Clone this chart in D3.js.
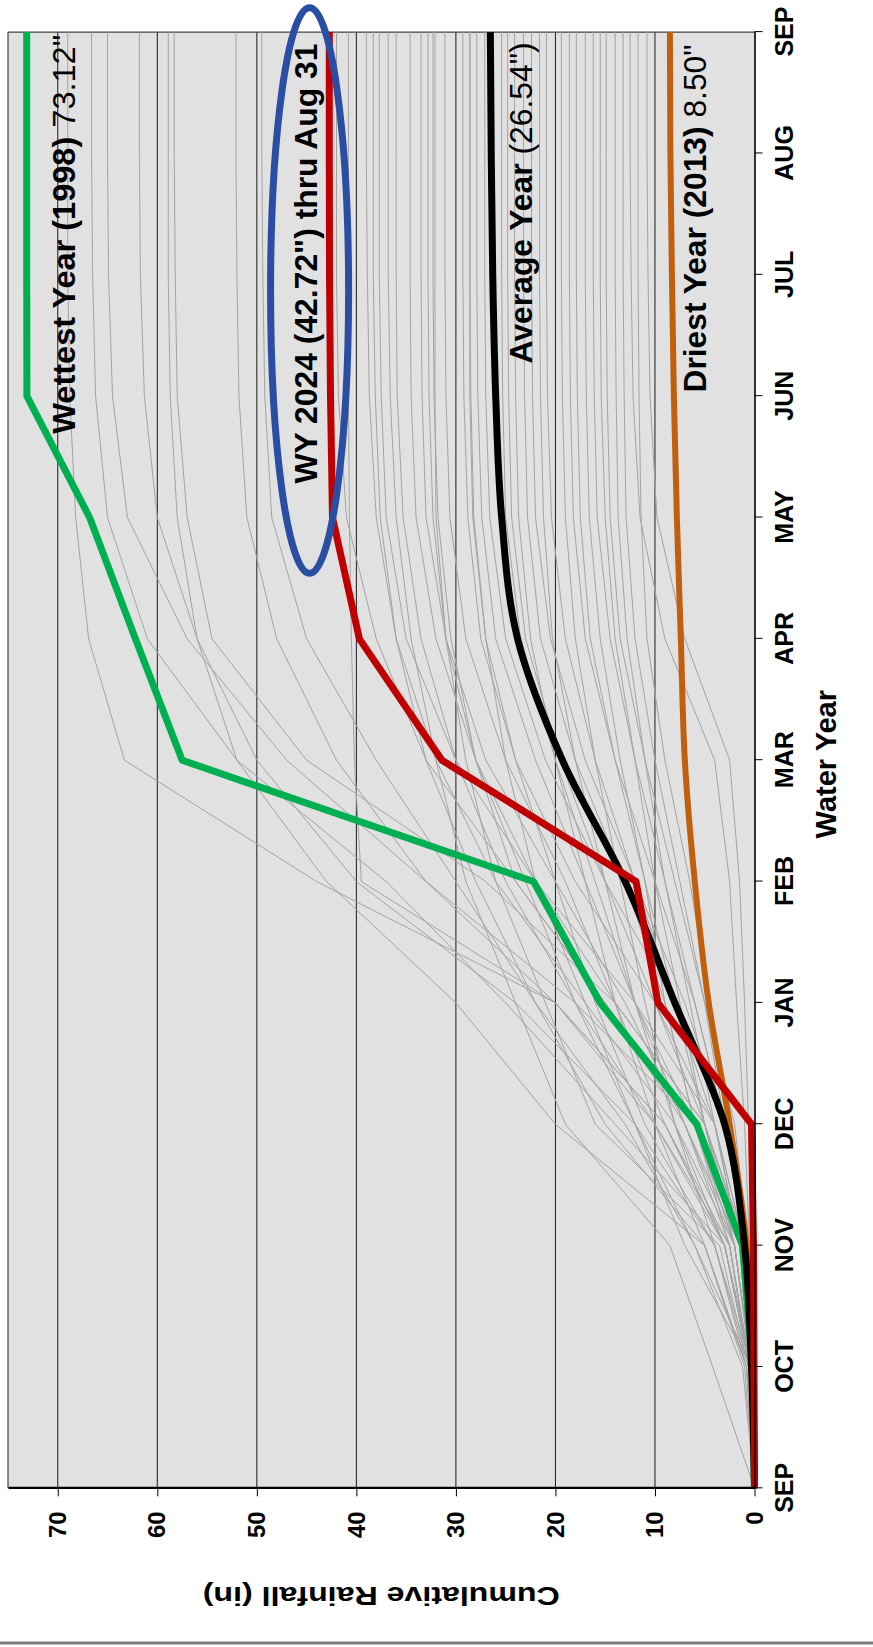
<!DOCTYPE html>
<html>
<head>
<meta charset="utf-8">
<script src="https://cdn.jsdelivr.net/npm/d3@7"></script>
<style>
  body { margin: 0; background: #fff; }
  svg { display: block; font-family: "Liberation Sans", Arial, sans-serif; }
</style>
</head>
<body>
<svg id="chart"></svg>
<script>
// month ticks of the water year, Sep 1 through Sep 1
const months = ["SEP", "OCT", "NOV", "DEC", "JAN", "FEB", "MAR", "APR", "MAY", "JUN", "JUL", "AUG", "SEP"]
const rainTicks = [0, 10, 20, 30, 40, 50, 60, 70]

// cumulative rainfall (in), one value per month tick
const wettest1998 = [0, 0.2, 1.2, 5.8, 15.5, 22.2, 57.5, 62.2, 66.8, 73.1, 73.12, 73.12, 73.12]
const wy2024      = [0, 0.05, 0.1, 0.3, 9.7, 11.9, 31.4, 39.7, 42.4, 42.6, 42.7, 42.72, 42.72]
const average     = [0, 0.3, 1.0, 3.0, 8.0, 13.0, 19.3, 23.8, 25.4, 26.0, 26.3, 26.45, 26.54]
const driest2013  = [0, 0.3, 0.8, 2.5, 4.6, 6.0, 7.0, 7.4, 7.8, 8.1, 8.3, 8.45, 8.50]

// every other year of record
const grayYears = [
    [0, 0.4, 2.5, 9, 20, 44, 63.3, 66.9, 68.2, 68.8, 69.0, 69.0, 69.0],
    [0, 0.2, 3, 14, 25, 37, 52, 61, 65, 66.2, 66.5, 66.6, 66.6],
    [0, 0.5, 1.5, 6, 18, 33, 47, 57, 63, 64.5, 64.9, 65.0, 65.0],
    [0, 0.3, 4, 12, 24, 40, 50, 56, 60, 61.3, 61.7, 61.8, 61.8],
    [0, 0.8, 5, 20, 30, 43, 52, 56, 58, 58.7, 58.9, 58.9, 58.9],
    [0, 0.1, 1, 5, 14, 27, 45, 54.5, 57, 58, 58.2, 58.3, 58.3],
    [0, 0.5, 2.5, 10, 20, 33, 42, 48, 51, 51.8, 52, 52.1, 52.1],
    [0, 0.3, 6, 13, 22, 30, 38, 45, 48.5, 49.2, 49.4, 49.5, 49.5],
    [0, 0.2, 1.5, 7, 15, 24, 33, 38, 41, 41.8, 42, 42, 42],
    [0, 0.5, 3, 9, 20, 39.5, 40.2, 40.5, 40.7, 40.8, 40.8, 40.8, 40.8],
    [0, 0.3, 2, 8, 17, 26, 32, 36, 38, 38.7, 38.9, 39, 39],
    [0, 0.8, 5, 15, 22, 28, 33, 36, 37.6, 38.1, 38.3, 38.3, 38.3],
    [0, 0.2, 1, 4, 12, 22, 30, 35, 37, 37.5, 37.7, 37.7, 37.7],
    [0, 4.2, 8.5, 19, 24, 29, 32, 34.5, 36, 36.6, 36.8, 36.8, 36.8],
    [0, 0.5, 3, 10, 18, 25, 30, 33.5, 35.3, 35.9, 36, 36, 36],
    [0, 0.1, 0.8, 5, 14, 22, 28, 32, 34, 34.5, 34.6, 34.6, 34.6],
    [0, 0.3, 2, 7, 13, 20, 27, 31, 33, 33.4, 33.5, 33.5, 33.5],
    [0, 1.2, 6, 12, 18, 23, 28, 31, 32.3, 32.7, 32.8, 32.8, 32.8],
    [0, 0.2, 1.5, 6, 15, 24, 28, 30.5, 31.8, 32.2, 32.3, 32.3, 32.3],
    [0, 0.4, 3, 9, 14, 19, 25, 29, 30.6, 31, 31.1, 31.1, 31.1],
    [0, 0.2, 1, 4, 10, 18, 24, 27.5, 28.8, 29.2, 29.3, 29.3, 29.3],
    [0, 0.6, 4, 11, 16, 20, 24, 27, 28.2, 28.5, 28.6, 28.6, 28.6],
    [0, 0.3, 2, 6, 12, 17, 22, 26, 27.4, 27.8, 27.9, 27.9, 27.9],
    [0, 0.1, 1, 3, 8, 15, 21, 25, 26.6, 27, 27.1, 27.1, 27.1],
    [0, 0.5, 2.5, 7, 12, 16, 20, 23.5, 25, 25.3, 25.4, 25.4, 25.4],
    [0, 0.2, 1.5, 5, 10, 15, 19.5, 23, 24.4, 24.7, 24.8, 24.8, 24.8],
    [0, 1, 5, 10, 14, 17, 20, 22.5, 23.7, 24, 24.1, 24.1, 24.1],
    [0, 0.3, 2, 6, 9, 13, 18, 21.5, 22.8, 23.1, 23.2, 23.2, 23.2],
    [0, 0.2, 1, 3, 7, 12, 17, 20.5, 22, 22.3, 22.4, 22.4, 22.4],
    [0, 0.5, 3, 8, 12, 15, 18, 20.3, 21.2, 21.5, 21.6, 21.6, 21.6],
    [0, 0.2, 1.5, 4, 8, 12, 16, 19, 20.4, 20.8, 20.9, 20.9, 20.9],
    [0, 0.8, 4, 8, 11, 13.5, 16, 18, 19, 19.3, 19.4, 19.4, 19.4],
    [0, 0.1, 0.8, 3, 6, 10, 14, 17, 18.2, 18.5, 18.6, 18.6, 18.6],
    [0, 0.3, 2, 5, 8, 11, 14, 16.5, 17.5, 17.8, 17.9, 17.9, 17.9],
    [0, 0.5, 2.5, 6, 9, 11, 13.5, 15.5, 16.6, 16.9, 17, 17, 17],
    [0, 0.2, 1, 3, 6, 9, 12, 14.5, 15.8, 16.1, 16.2, 16.2, 16.2],
    [0, 0.4, 2, 5, 7.5, 10, 12, 14, 15, 15.4, 15.5, 15.5, 15.5],
    [0, 0.1, 0.6, 2, 5, 8, 11, 13.5, 14.5, 14.8, 14.9, 14.9, 14.9],
    [0, 0.3, 1.5, 4, 6.5, 9, 11, 12.8, 13.7, 13.9, 14, 14, 14],
    [0, 0.2, 1, 3, 5, 7.5, 10, 12, 12.9, 13.1, 13.2, 13.2, 13.2],
    [0, 0.2, 0.5, 1, 1.8, 2.5, 4, 9, 11.5, 12.2, 12.4, 12.5, 12.5],
    [0, 0.1, 0.8, 2.5, 4.5, 6.5, 9, 10.8, 11.4, 11.6, 11.7, 11.7, 11.7],
    [0, 0.1, 0.3, 0.6, 1, 1.5, 2.5, 7, 9.8, 10.5, 10.7, 10.8, 10.8],
    [0, 0.6, 3.5, 16, 21, 26, 29, 31, 32, 32.1, 32.1, 32.1, 32.1],
    [0, 0.3, 7, 12, 17, 22, 25, 27, 28.3, 28.6, 28.6, 28.6, 28.6]
]

const width = 873, height = 1647

// chart is laid out normally, then the whole group is turned -90 degrees
const origin = { x: 8, y: 1488.3 }
const plotW = 1456.2   // month axis length (runs up the page)
const plotH = 746.5    // rainfall axis length (runs across the page)

const svg = d3.select("#chart")
    .attr("width", width)
    .attr("height", height)

svg.append("rect").attr("width", width).attr("height", height).attr("fill", "#fff")

// frame line along the bottom of the page
svg.append("line")
    .attr("x1", 0).attr("x2", width)
    .attr("y1", height - 4).attr("y2", height - 4)
    .attr("stroke", "#7f7f7f").attr("stroke-width", 3)

const g = svg.append("g")
    .attr("transform", `translate(${origin.x},${origin.y}) rotate(-90)`)

const x = d3.scaleLinear().domain([0, months.length - 1]).range([0, plotW])
const y = d3.scaleLinear().domain([0, 75]).range([plotH, 0])

g.append("rect")
    .attr("width", plotW).attr("height", plotH)
    .attr("fill", "#e1e1e1")

// grid
g.append("g")
    .selectAll("line")
    .data(rainTicks.filter(d => d > 0))
    .join("line")
    .attr("x1", 0).attr("x2", plotW)
    .attr("y1", d => y(d)).attr("y2", d => y(d))
    .attr("stroke", "#1a1a1a").attr("stroke-width", 1)

// frame on the far sides
g.append("line").attr("x1", 0).attr("x2", plotW).attr("y1", 0).attr("y2", 0)
    .attr("stroke", "#444").attr("stroke-width", 1.2)
g.append("line").attr("x1", plotW).attr("x2", plotW).attr("y1", 0).attr("y2", plotH)
    .attr("stroke", "#444").attr("stroke-width", 1.2)

const line = d3.line().x((d, i) => x(i)).y(d => y(d))
const smooth = d3.line().x((d, i) => x(i)).y(d => y(d)).curve(d3.curveMonotoneX)

g.append("g")
    .attr("fill", "none")
    .attr("stroke", "#a3a3a3")
    .attr("stroke-width", 1)
    .selectAll("path")
    .data(grayYears)
    .join("path")
    .attr("d", line)

g.append("path").datum(wettest1998).attr("d", line)
    .attr("fill", "none").attr("stroke", "#00b050").attr("stroke-width", 7)
    .attr("stroke-linejoin", "round")
g.append("path").datum(driest2013).attr("d", smooth)
    .attr("fill", "none").attr("stroke", "#c0600f").attr("stroke-width", 6)
g.append("path").datum(average).attr("d", smooth)
    .attr("fill", "none").attr("stroke", "#000").attr("stroke-width", 7)
g.append("path").datum(wy2024).attr("d", line)
    .attr("fill", "none").attr("stroke", "#c00000").attr("stroke-width", 7)
    .attr("stroke-linejoin", "round")

// axes
const xAxis = g.append("g")
    .attr("transform", `translate(0,${plotH})`)
    .call(d3.axisBottom(x)
        .tickValues(d3.range(months.length))
        .tickFormat(i => months[i])
        .tickSize(8).tickPadding(13).tickSizeOuter(0))
xAxis.select(".domain").attr("stroke", "#000").attr("stroke-width", 1.6)
xAxis.selectAll("text")
    .attr("font-family", "Liberation Sans, Arial, sans-serif")
    .attr("font-size", 25).attr("font-weight", "bold").attr("fill", "#000")

const yAxis = g.append("g")
    .call(d3.axisLeft(y)
        .tickValues(rainTicks)
        .tickSize(8).tickPadding(15).tickSizeOuter(0))
yAxis.select(".domain").attr("stroke", "#000").attr("stroke-width", 2.2)
yAxis.selectAll("text")
    .attr("font-family", "Liberation Sans, Arial, sans-serif")
    .attr("font-size", 24).attr("font-weight", "bold").attr("fill", "#000")

g.append("text")
    .attr("transform", `translate(-99,${plotH / 2}) rotate(-90)`)
    .attr("text-anchor", "middle")
    .attr("font-size", 26).attr("font-weight", "bold")
    .attr("textLength", 357).attr("lengthAdjust", "spacingAndGlyphs")
    .text("Cumulative Rainfall (in)")

g.append("text")
    .attr("x", plotW / 2 - 4).attr("y", plotH + 81)
    .attr("text-anchor", "middle")
    .attr("font-size", 29).attr("font-weight", "bold")
    .text("Water Year")

// series labels, placed in month / inch units
const labels = [
    { m: 8.69, v: 68.3, bold: "Wettest Year (1998) ", plain: "73.12\"", len: 399 },
    { m: 8.28, v: 43.96, bold: "WY 2024 (42.72\") thru Aug 31", plain: "", len: 440 },
    { m: 9.27, v: 22.35, bold: "Average Year ", plain: "(26.54\")", len: 321 },
    { m: 9.03, v: 4.87, bold: "Driest Year (2013) ", plain: "8.50\"", len: 348 }
]
const lab = g.append("g").attr("font-size", 31).attr("fill", "#000")
    .selectAll("text")
    .data(labels)
    .join("text")
    .attr("x", d => x(d.m))
    .attr("y", d => y(d.v))
    .attr("textLength", d => d.len)
    .attr("lengthAdjust", "spacingAndGlyphs")
lab.append("tspan").attr("font-weight", "bold").text(d => d.bold)
lab.append("tspan").text(d => d.plain)

// blue ring round the 2024 label
const ring = { m: 9.87, v: 44.7, rm: 2.33, rv: 3.92 }
g.append("ellipse")
    .attr("cx", x(ring.m)).attr("cy", y(ring.v))
    .attr("rx", x(ring.rm) - x(0)).attr("ry", y(0) - y(ring.rv))
    .attr("fill", "none").attr("stroke", "#2a4ea3").attr("stroke-width", 7)
</script>
</body>
</html>
